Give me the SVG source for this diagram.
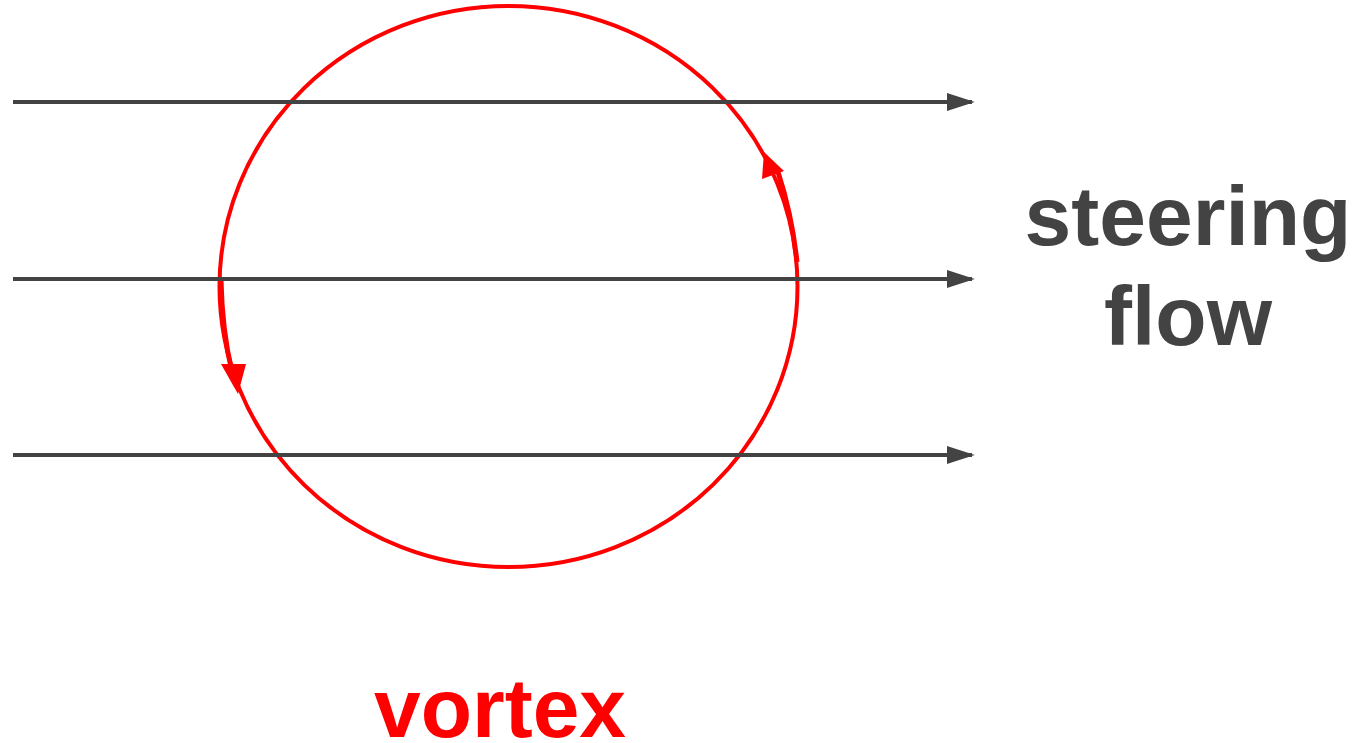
<svg xmlns="http://www.w3.org/2000/svg" width="1365" height="743" viewBox="0 0 1365 743">
<style>
.flow{stroke:#434343;stroke-width:4;fill:none}
.vx{stroke:#ff0000;stroke-width:4;fill:none}
.lbl{font-family:"Liberation Sans",Arial,sans-serif;font-weight:bold;font-size:84px;text-anchor:middle}
</style>
<defs>
<marker id="ah" viewBox="0 0 10 10" refX="9" refY="5" markerWidth="7" markerHeight="4.5" markerUnits="strokeWidth" orient="auto" preserveAspectRatio="none">
<path d="M0,0 L10,5 L0,10 z" fill="#434343"/>
</marker>
</defs>
<g id="vortex">
<ellipse class="vx" cx="508.5" cy="286.5" rx="289" ry="280.5"/>
<path d="M797,262 Q792,215 778,172" stroke="#ff0000" stroke-width="5" fill="none"/>
<polygon points="764,152 762,179 784,171" fill="#ff0000"/>
<path d="M221,280 Q222,330 232,372" stroke="#ff0000" stroke-width="5" fill="none"/>
<polygon points="238,394 221,364 246,364" fill="#ff0000"/>
<text class="lbl" x="500" y="737" fill="#ff0000">vortex</text>
</g>
<g id="connectors">
<line class="flow" x1="13" y1="102" x2="972" y2="102" marker-end="url(#ah)"/>
<line class="flow" x1="13" y1="279" x2="972" y2="279" marker-end="url(#ah)"/>
<line class="flow" x1="13" y1="455" x2="972" y2="455" marker-end="url(#ah)"/>
</g>
<g id="steering">
<text class="lbl" x="1188" y="245" fill="#434343">steering</text>
<text class="lbl" x="1188" y="345" fill="#434343">flow</text>
</g>
</svg>
